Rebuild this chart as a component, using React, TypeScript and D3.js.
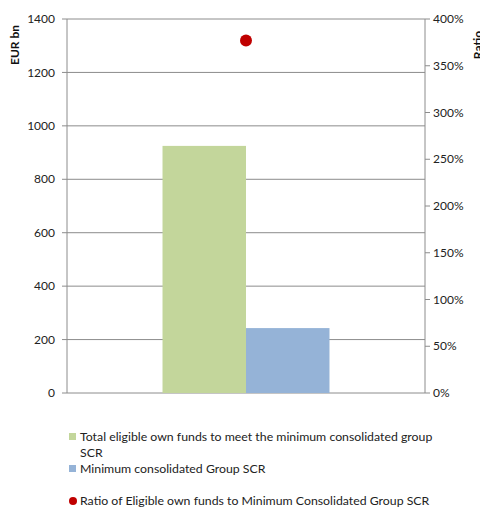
import React from 'react';
import * as d3 from 'd3';

const categories = ['Group'];
const seriesNames = ['Total eligible own funds to meet the minimum consolidated group SCR', 'Minimum consolidated Group SCR'];
const eligibleOwnFunds = [925];
const minimumScr = [243];
const ratioValues = [3.77];
const leftTicks = [0, 200, 400, 600, 800, 1000, 1200, 1400];
const rightTicks = [0, 0.5, 1, 1.5, 2, 2.5, 3, 3.5, 4];

const colors = ['#C3D69B', '#95B3D7'];
const dotColor = '#C00000';
const font = 'Lato, "Open Sans", sans-serif';

export default function App() {
  const width = 480;
  const height = 507;
  const margin = { top: 19, right: 55, bottom: 114, left: 67 };
  const innerW = width - margin.left - margin.right;
  const innerH = height - margin.top - margin.bottom;

  const x0 = d3.scaleBand().domain(categories).range([0, innerW]).paddingInner(0).paddingOuter(0.572);
  const x1 = d3.scaleBand().domain(['0', '1']).range([0, x0.bandwidth()]);
  const yLeft = d3.scaleLinear().domain([0, 1400]).range([innerH, 0]);
  const yRight = d3.scaleLinear().domain([0, 4]).range([innerH, 0]);
  const pct = d3.format('.0%');

  const series = [eligibleOwnFunds, minimumScr];

  return (
    <svg width={width} height={height} style={{ position: 'absolute', left: 0, top: 0, fontFamily: font }}>
      <rect width={width} height={height} fill="#fff" />
      <g transform={`translate(${margin.left},${margin.top})`}>
        {leftTicks.map((t) => (
          <g key={t} transform={`translate(0,${yLeft(t)})`}>
            <line x1={-5} x2={innerW} stroke="#8c8c8c" strokeWidth={1} />
            <text x={-12} dy="0.35em" textAnchor="end" fontSize={12} fill="#222">{t}</text>
          </g>
        ))}
        {rightTicks.map((t) => (
          <g key={t} transform={`translate(${innerW},${yRight(t)})`}>
            <line x1={0} x2={5} stroke="#8c8c8c" strokeWidth={1} />
            <text x={8} dy="0.35em" textAnchor="start" fontSize={12} fill="#222">{pct(t)}</text>
          </g>
        ))}
        <line x1={0} x2={0} y1={0} y2={innerH} stroke="#8c8c8c" />
        <line x1={innerW} x2={innerW} y1={0} y2={innerH} stroke="#8c8c8c" />
        {categories.map((c, i) => (
          <g key={c} transform={`translate(${x0(c)},0)`}>
            {series.map((s, j) => (
              <rect
                key={j}
                x={x1(String(j))}
                y={yLeft(s[i])}
                width={x1.bandwidth()}
                height={innerH - yLeft(s[i])}
                fill={colors[j]}
              />
            ))}
            <circle cx={x0.bandwidth() / 2} cy={yRight(ratioValues[i])} r={6} fill={dotColor} />
          </g>
        ))}
        <text transform={`translate(${-48},${45 - margin.top}) rotate(-90)`} textAnchor="middle" fontSize={12} fontWeight="bold" fill="#111">EUR bn</text>
        <text transform={`translate(${innerW + 57},${45 - margin.top}) rotate(-90)`} textAnchor="middle" fontSize={12} fontWeight="bold" fill="#111">Ratio</text>
      </g>
      <g fontSize={12.3} fill="#222">
        <rect x={69} y={433} width={7} height={7} fill={colors[0]} />
        <text x={80} y={441}>Total eligible own funds to meet the minimum consolidated group</text>
        <text x={80} y={457}>SCR</text>
        <rect x={69} y={465} width={7} height={7} fill={colors[1]} />
        <text x={80} y={473}>{seriesNames[1]}</text>
        <circle cx={73} cy={501} r={4} fill={dotColor} />
        <text x={80} y={505}>Ratio of Eligible own funds to Minimum Consolidated Group SCR</text>
      </g>
    </svg>
  );
}
